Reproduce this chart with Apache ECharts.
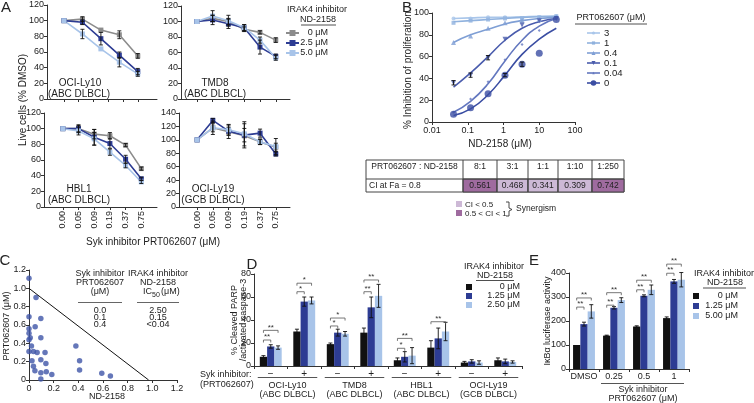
<!DOCTYPE html>
<html>
<head>
<meta charset="utf-8">
<script src="https://cdn.jsdelivr.net/npm/echarts@6/dist/echarts.min.js"></script>
<style>
html, body { margin: 0; padding: 0; background: #fff; }
#chart { width: 754px; height: 403px; }
</style>
</head>
<body>
<div id="chart"></div>
<script>
// ---------- Panel A: live cells (% DMSO) ----------
const sykConc = ['0.00', '0.05', '0.09', '0.19', '0.37', '0.75']
const sykPos = [0, 1, 2, 3, 4, 5]
const ly10Pos = [0, 1.25, 2.5, 3.75, 5]   // OCI-Ly10 only has 5 points spread over the axis

const ly10Grey = [100, 102, 88, 82, 55]
const ly10Dark = [100, 98, 77, 56, 35]
const ly10Light = [100, 83, 64, 47, 32]
const ly10GreyErr = [0, 3, 0, 5, 3]
const ly10DarkErr = [0, 3, 8, 4, 4]
const ly10LightErr = [0, 6, 0, 6, 3]

const tmd8Grey = [100, 104, 100, 90, 86, 76]
const tmd8Dark = [100, 102, 97, 92, 67, 55]
const tmd8Light = [100, 107, 101, 92, 76, 53]
const tmd8GreyErr = [0, 4, 4, 3, 2, 3]
const tmd8DarkErr = [0, 6, 6, 4, 9, 3]
const tmd8LightErr = [0, 7, 7, 4, 4, 3]

const hbl1Grey = [100, 100, 93, 91, 79, 49]
const hbl1Dark = [100, 100, 89, 81, 61, 36]
const hbl1Light = [100, 97, 87, 70, 53, 32]
const hbl1GreyErr = [0, 4, 6, 4, 2, 2]
const hbl1DarkErr = [0, 5, 10, 6, 5, 2]
const hbl1LightErr = [0, 5, 8, 4, 3, 2]

const ly19Grey = [100, 118, 112, 106, 97, 89]
const ly19Dark = [100, 129, 113, 107, 110, 79]
const ly19Light = [100, 118, 115, 109, 97, 90]
const ly19GreyErr = [0, 6, 10, 18, 4, 6]
const ly19DarkErr = [0, 3, 6, 10, 6, 3]
const ly19LightErr = [0, 10, 8, 18, 4, 12]

const aLegend = ['0 \u03bcM', '2.5 \u03bcM', '5.0 \u03bcM']

// ---------- Panel B: % inhibition vs ND-2158 ----------
const ndConc = [0.04, 0.12, 0.37, 1.1, 3.3, 10, 30]
const bNames = ['3', '1', '0.4', '0.1', '0.04', '0']
const obs3 = [95, 95, 96, 96, 95, 96, 97]
const obs1 = [91, 93, 94, 95, 95, 96, 97]
const obs04 = [73, 79, 86, 91, 93, 94, 96]
const obs01 = [36, 43, 59, 76, 89, 93, 95]
const obs004 = [9, 21, 37, 57, 71, 84, 96]
const obs0 = [7, 13, 26, 43, 53, 63, 94]
const err01 = [2, 2, 2, 0, 0, 0, 0]
const err0 = [0, 0, 0, 1.5, 2, 0, 0]
const fit3 = [95, 95.5, 96, 96, 96.5, 97, 97]
const fit1 = [92, 93, 94, 95, 96, 96.5, 97]
const fit04 = [73, 80, 85, 90, 93, 95, 96]
const fit01 = [32, 45, 60, 75, 86, 92, 95]
const fit004 = [9, 19, 35, 56, 75, 88, 95]
const fit0 = [6, 12, 25, 43, 62, 76, 86]

const ratios = ['8:1', '3:1', '1:1', '1:10', '1:250']
const ciVals = [0.561, 0.468, 0.341, 0.309, 0.742]

// ---------- Panel C: isobologram ----------
const cX = [0, 0.057, 0, 0.096, 0, 0.05, 0, 0.01, 0, 0.096, 0.02, 0, 0.036, 0.066, 0.13, 0.024,
  0.096, 0.137, 0.036, 0.048, 0.096, 0.14, 0.185, 0.096, 0.38, 0.41, 0.41, 0.59, 0.66]
const cY = [1.11, 0.90, 0.69, 0.67, 0.56, 0.58, 0.51, 0.46, 0.44, 0.46, 0.37, 0.31, 0.31, 0.30, 0.30, 0.21,
  0.22, 0.18, 0.15, 0.10, 0.08, 0.09, 0.06, 0.01, 0.37, 0.21, 0.11, 0.075, 0.045]
const additivityX = [0, 0.97]
const additivityY = [1, 0]
const cSyk = ['0.0', '0.1', '0.4']
const cIc50 = ['2.50', '0.15', '<0.04']

// ---------- Panel D: cleaved PARP ----------
const dCats = ['\u2212', '+', '\u2212', '+', '\u2212', '+', '\u2212', '+']
const dCells = ['OCI-Ly10', 'TMD8', 'HBL1', 'OCI-Ly19']
const dTypes = ['(ABC DLBCL)', '(ABC DLBCL)', '(ABC DLBCL)', '(GCB DLBCL)']
const d0 = [8, 30, 19, 29, 5, 16, 3, 5]
const d125 = [17, 56, 29, 51, 8, 24, 4, 4]
const d250 = [16, 57, 28, 61, 9, 30, 3, 3.5]
const d0Err = [1, 2, 1, 4, 2, 6, 1, 2]
const d125Err = [1.5, 4, 3, 9, 4.5, 9, 1.5, 2]
const d250Err = [1.5, 3, 2, 10, 7, 8, 1.5, 1]
// [category, fromBar, toBar, y, label]
const dBrackets = [
  [0, 0, 2, 31, '**'], [0, 0, 1, 22.6, '**'], [1, 0, 2, 72, '*'], [1, 0, 1, 64.6, '*'],
  [2, 0, 2, 41.7, '*'], [2, 0, 1, 34.8, '*'], [3, 0, 2, 74.8, '**'], [3, 0, 1, 64.6, '**'],
  [4, 0, 2, 24, '**'], [4, 0, 1, 15.4, '*'], [5, 0, 2, 38.5, '**']
]
const dLegend = ['0 \u03bcM', '1.25 \u03bcM', '2.50 \u03bcM']

// ---------- Panel E: IkBa luciferase ----------
const eCats = ['DMSO', '0.25', '0.5', '1']
const e0 = [100, 139, 177, 212]
const e125 = [187, 255, 305, 365]
const e500 = [240, 287, 330, 372]
const e0Err = [0, 2, 3, 5]
const e125Err = [8, 5, 4, 8]
const e500Err = [28, 10, 20, 30]
const eBrackets = [
  [0, 0, 2, 296, '**'], [0, 0, 1, 258, '**'], [1, 0, 2, 318, '**'], [1, 0, 1, 266, '**'],
  [2, 0, 2, 370, '**'], [2, 0, 1, 330, '**'], [3, 0, 2, 437, '**'], [3, 0, 1, 399, '**']
]
const eLegend = ['0 \u03bcM', '1.25 \u03bcM', '5.00 \u03bcM']

// colours
const GREY = '#8c8c8c'
const DARK = '#2d3c93'
const LIGHT = '#a8c4e9'
const BLACK = '#111'
const bColors = ['#a9c6ea', '#90b2de', '#7f9fd5', '#4a5cad', '#6377bf', '#3b4ea3']
const CI_LIGHT = '#cdb9d6'
const CI_DARK = '#9f6b9f'
const FONT = 'Liberation Sans'
const INK = '#222'
const BAR_W = 7.3

const chart = echarts.init(document.getElementById('chart'))

const tickFont = { fontFamily: FONT, fontSize: 9, color: INK }
const axLine = { show: true, onZero: false, lineStyle: { color: '#333', width: 1 } }
const axTick = { show: true, length: 3, lineStyle: { color: '#333' } }

// axis helpers
const aX = (gi, labels, min, max) => ({
  type: 'value', gridIndex: gi, min: min, max: max,
  axisLine: axLine,
  axisTick: { ...axTick, customValues: sykPos },
  axisLabel: { show: labels, customValues: sykPos, rotate: 90, margin: 4, ...tickFont,
    formatter: v => sykConc[Math.round(v)] },
  splitLine: { show: false }
})
const valY = (gi, min, max, interval, fmt) => ({
  type: 'value', gridIndex: gi, min: min, max: max, interval: interval,
  axisLine: axLine, axisTick: axTick,
  axisLabel: { ...tickFont, margin: 3, formatter: fmt },
  splitLine: { show: false }
})

// error bars (I-beams), shift moves them sideways for grouped bars
function errSeries (xi, xs, ys, errs, shift) {
  return {
    type: 'custom', xAxisIndex: xi, yAxisIndex: xi, z: 4, silent: true, clip: false,
    data: xs.map((x, i) => [x, ys[i], errs[i]]),
    renderItem: (params, api) => {
      const e = api.value(2)
      if (!e) return
      const top = api.coord([api.value(0), api.value(1) + e])
      const bot = api.coord([api.value(0), api.value(1) - e])
      const cx = top[0] + (shift || 0)
      const st = { stroke: '#111', lineWidth: 0.9 }
      return {
        type: 'group', children: [
          { type: 'line', shape: { x1: cx, y1: top[1], x2: cx, y2: bot[1] }, style: st },
          { type: 'line', shape: { x1: cx - 2, y1: top[1], x2: cx + 2, y2: top[1] }, style: st },
          { type: 'line', shape: { x1: cx - 2, y1: bot[1], x2: cx + 2, y2: bot[1] }, style: st }
        ]
      }
    }
  }
}

// significance brackets over grouped bars
function bracketSeries (xi, list) {
  return {
    type: 'custom', xAxisIndex: xi, yAxisIndex: xi, z: 5, silent: true, clip: false,
    data: list.map(b => [b[0], b[3]]),
    renderItem: (params, api) => {
      const b = list[params.dataIndex]
      const p = api.coord([api.value(0), api.value(1)])
      const x1 = p[0] + (b[1] - 1) * BAR_W
      const x2 = p[0] + (b[2] - 1) * BAR_W
      const y = p[1]
      return {
        type: 'group', children: [
          { type: 'polyline', shape: { points: [[x1, y + 2.5], [x1, y], [x2, y], [x2, y + 2.5]] },
            style: { stroke: '#555', lineWidth: 0.8, fill: null } },
          { type: 'text', x: (x1 + x2) / 2, y: y + 1,
            style: { text: b[4], align: 'center', verticalAlign: 'bottom', fontFamily: FONT, fontSize: 8, fill: '#333' } }
        ]
      }
    }
  }
}

function aLine (gi, xs, ys, color) {
  return {
    type: 'line', xAxisIndex: gi, yAxisIndex: gi, z: 3,
    data: xs.map((x, i) => [x, ys[i]]),
    symbol: 'rect', symbolSize: 5, showSymbol: true,
    lineStyle: { color: color, width: 1.6 }, itemStyle: { color: color }
  }
}

const series = []
// Panel A
const aSets = [
  [0, ly10Pos, [ly10Grey, ly10Dark, ly10Light], [ly10GreyErr, ly10DarkErr, ly10LightErr]],
  [1, sykPos, [tmd8Grey, tmd8Dark, tmd8Light], [tmd8GreyErr, tmd8DarkErr, tmd8LightErr]],
  [2, sykPos, [hbl1Grey, hbl1Dark, hbl1Light], [hbl1GreyErr, hbl1DarkErr, hbl1LightErr]],
  [3, sykPos, [ly19Grey, ly19Dark, ly19Light], [ly19GreyErr, ly19DarkErr, ly19LightErr]]
]
aSets.forEach(([gi, xs, ys, errs]) => {
  [GREY, DARK, LIGHT].forEach((c, k) => {
    series.push(aLine(gi, xs, ys[k], c))
    series.push(errSeries(gi, xs, ys[k], errs[k], 0))
  })
})

// Panel B
const bObs = [obs3, obs1, obs04, obs01, obs004, obs0]
const bFit = [fit3, fit1, fit04, fit01, fit004, fit0]
const bSymbols = ['circle', 'rect', 'triangle', 'triangle', 'diamond', 'circle']
const bSizes = [4, 4, 5, 5, 3, 7]
const bRot = [0, 0, 0, 180, 0, 0]
bNames.forEach((n, k) => {
  series.push({
    type: 'line', xAxisIndex: 4, yAxisIndex: 4, smooth: 0.5, symbol: 'none',
    data: ndConc.map((x, i) => [x, bFit[k][i]]),
    lineStyle: { color: bColors[k], width: 1.6 }
  })
  series.push({
    type: 'scatter', xAxisIndex: 4, yAxisIndex: 4, z: 3,
    symbol: bSymbols[k], symbolSize: bSizes[k], symbolRotate: bRot[k],
    data: ndConc.map((x, i) => [x, bObs[k][i]]),
    itemStyle: { color: bColors[k] }
  })
})
series.push(errSeries(4, ndConc, obs01, err01, 0))
series.push(errSeries(4, ndConc, obs0, err0, 0))

// Panel C
series.push({
  type: 'line', xAxisIndex: 5, yAxisIndex: 5, symbol: 'none',
  data: additivityX.map((x, i) => [x, additivityY[i]]),
  lineStyle: { color: '#111', width: 1 }
})
series.push({
  type: 'scatter', xAxisIndex: 5, yAxisIndex: 5, symbolSize: 5.5,
  data: cX.map((x, i) => [x, cY[i]]),
  itemStyle: { color: '#3f55a8' }
})

// Panel D and E bars
function barGroup (xi, vals, errs, brackets) {
  const colors = [BLACK, DARK, LIGHT]
  vals.forEach((v, k) => {
    series.push({
      type: 'bar', xAxisIndex: xi, yAxisIndex: xi, data: v, barWidth: BAR_W, barGap: '0%',
      itemStyle: { color: colors[k] }
    })
  })
  vals.forEach((v, k) => {
    series.push(errSeries(xi, v.map((_, i) => i), v, errs[k], (k - 1) * BAR_W))
  })
  series.push(bracketSeries(xi, brackets))
}
barGroup(6, [d0, d125, d250], [d0Err, d125Err, d250Err], dBrackets)
barGroup(7, [e0, e125, e500], [e0Err, e125Err, e500Err], eBrackets)

const catAxis = (gi, data, fontSize) => ({
  type: 'category', gridIndex: gi, data: data,
  axisLine: axLine, axisTick: { ...axTick, alignWithLabel: false },
  axisLabel: { ...tickFont, fontSize: fontSize, margin: 3, interval: 0 }
})

const dec1 = v => (v === 0 ? '0' : v.toFixed(1))

const option = {
  animation: false,
  backgroundColor: '#fff',
  textStyle: { fontFamily: FONT },
  grid: [
    { left: 47, top: 5, width: 110, height: 94 },
    { left: 181, top: 6, width: 109, height: 93 },
    { left: 44, top: 113, width: 113, height: 94 },
    { left: 179, top: 113, width: 111, height: 94 },
    { left: 432, top: 13, width: 143, height: 109 },
    { left: 29, top: 270, width: 148, height: 110 },
    { left: 254, top: 274, width: 268, height: 92 },
    { left: 569, top: 273, width: 120, height: 96 }
  ],
  xAxis: [
    aX(0, false, -1.15, 6.3),
    aX(1, false, -1.0, 5.9),
    aX(2, true, -1.2, 6.0),
    aX(3, true, -1.15, 5.9),
    { type: 'log', logBase: 10, gridIndex: 4, min: 0.01, max: 100,
      axisLine: axLine, axisTick: axTick, splitLine: { show: false },
      axisLabel: { ...tickFont, margin: 4, formatter: v => String(v) } },
    { type: 'value', gridIndex: 5, min: 0, max: 1.2, interval: 0.2,
      axisLine: axLine, axisTick: axTick, splitLine: { show: false },
      axisLabel: { ...tickFont, margin: 4, formatter: dec1 } },
    catAxis(6, dCats, 10),
    catAxis(7, eCats, 9)
  ],
  yAxis: [
    valY(0, 0, 120, 20),
    valY(1, 0, 120, 20),
    valY(2, 0, 120, 20),
    valY(3, 0, 140, 20),
    valY(4, 0, 100, 20),
    valY(5, 0, 1.2, 0.2, dec1),
    valY(6, 0, 80, 20),
    valY(7, 0, 400, 100)
  ],
  series: series
}
chart.setOption(option)

// ---------- text, legends and tables ----------
function T (text, x, y, o) {
  o = o || {}
  return {
    type: 'text', x: x, y: y, rotation: o.rot || 0, silent: true, z: 10,
    style: { text: text, fontFamily: FONT, fontSize: o.size || 9, fill: o.color || INK,
      align: o.align || 'center', verticalAlign: o.va || 'middle', fontWeight: o.weight || 'normal' }
  }
}
function L (x1, y1, x2, y2, color, w) {
  return { type: 'line', silent: true, z: 10, shape: { x1: x1, y1: y1, x2: x2, y2: y2 },
    style: { stroke: color || '#222', lineWidth: w || 1 } }
}
function R (x, y, w, h, fill, stroke) {
  return { type: 'rect', silent: true, z: 9, shape: { x: x, y: y, width: w, height: h },
    style: { fill: fill || 'none', stroke: stroke || null, lineWidth: 1 } }
}

const g = []
// panel letters
g.push(T('A', 6, 8, { size: 15 }), T('B', 407, 8, { size: 15 }), T('C', 5, 261, { size: 15 }),
  T('D', 252, 265, { size: 15 }), T('E', 534, 261, { size: 15 }))

// Panel A labels
g.push(T('Live cells (% DMSO)', 23, 100, { size: 10, rot: Math.PI / 2 }))
g.push(T('Syk inhibitor PRT062607 (\u03bcM)', 153, 242, { size: 10 }))
g.push(T('OCI-Ly10', 80, 83, { size: 10 }), T('(ABC DLBCL)', 79, 94, { size: 10 }))
g.push(T('TMD8', 215, 83, { size: 10 }), T('(ABC DLBCL)', 215, 94, { size: 10 }))
g.push(T('HBL1', 79, 189, { size: 10 }), T('(ABC DLBCL)', 79, 200, { size: 10 }))
g.push(T('OCI-Ly19', 213, 189, { size: 10 }), T('(GCB DLBCL)', 213, 200, { size: 10 }))
g.push(T('IRAK4 inhibitor', 317, 10), T('ND-2158', 318, 20), L(301, 25, 336, 25, '#222', 0.8))
;[GREY, DARK, LIGHT].forEach((c, k) => {
  const y = 33 + k * 10
  g.push(L(286, y, 299, y, c, 2), R(289.5, y - 3, 6, 6, c))
  g.push(T(aLegend[k], 328, y, { align: 'right' }))
})

// Panel B labels and legend
g.push(T('% Inhibition of proliferation', 408, 70, { size: 10, rot: Math.PI / 2 }))
g.push(T('ND-2158 (\u03bcM)', 500, 144, { size: 10 }))
g.push(T('PRT062607 (\u03bcM)', 611, 18), L(575, 24, 647, 24, '#222', 0.8))
bNames.forEach((n, k) => {
  const y = 33 + k * 10
  const c = bColors[k]
  g.push(L(587, y, 600, y, c, 1.6))
  const s = bSizes[k] * 0.8
  if (bSymbols[k] === 'circle') g.push({ type: 'circle', silent: true, z: 10, shape: { cx: 593.5, cy: y, r: s / 2 }, style: { fill: c } })
  else if (bSymbols[k] === 'rect') g.push(R(593.5 - s / 2, y - s / 2, s, s, c))
  else {
    const up = bRot[k] === 0
    const h = s
    const pts = up ? [[593.5, y - h / 2], [593.5 + h / 2, y + h / 2], [593.5 - h / 2, y + h / 2]]
      : [[593.5, y + h / 2], [593.5 + h / 2, y - h / 2], [593.5 - h / 2, y - h / 2]]
    g.push({ type: 'polygon', silent: true, z: 10, shape: { points: pts }, style: { fill: c } })
  }
  g.push(T(n, 604, y, { align: 'left', size: 9.5 }))
})

// Panel B table
const colX = [366, 463, 497, 528, 558, 592, 624]
g.push(R(366, 160, 258, 32, '#fff', '#444'))
g.push(T('PRT062607 : ND-2158', 414.5, 167, { size: 8.5 }))
g.push(T('CI at Fa = 0.8', 369, 185.5, { align: 'left', size: 8.5 }))
ratios.forEach((r, i) => {
  const x0 = colX[i + 1], x1 = colX[i + 2]
  g.push(R(x0, 179, x1 - x0, 13, ciVals[i] < 0.5 ? CI_LIGHT : CI_DARK, '#444'))
  g.push(T(r, (x0 + x1) / 2, 167, { size: 8.5 }))
  g.push(T(ciVals[i].toFixed(3), (x0 + x1) / 2, 185.5, { size: 8.5 }))
})
colX.slice(1, 6).forEach(x => g.push(L(x, 160, x, 192, '#444', 1)))
g.push(L(366, 179, 624, 179, '#444', 1))
g.push(R(456, 201, 6, 6, CI_LIGHT), R(456, 210, 6, 6, CI_DARK))
g.push(T('CI < 0.5', 465, 204.5, { align: 'left', size: 8 }), T('0.5 < CI < 1', 465, 213.5, { align: 'left', size: 8 }))
g.push({ type: 'polyline', silent: true, z: 10,
  shape: { points: [[506, 202], [509, 202], [509, 208], [512, 209.5], [509, 211], [509, 216], [506, 216]] },
  style: { stroke: '#333', lineWidth: 0.9, fill: null } })
g.push(T('Synergism', 516, 209, { align: 'left', size: 8.5 }))

// Panel C labels and table
g.push(T('PRT062607 (\u03bcM)', 7, 326, { size: 9, rot: Math.PI / 2 }))
g.push(T('ND-2158', 107, 397, { size: 9 }))
g.push(T('Syk inhibitor', 100, 274), T('PRT062607', 100, 283), T('(\u03bcM)', 100, 292))
g.push(T('IRAK4 inhibitor', 158, 274), T('ND-2158', 158, 283))
g.push(T('IC', 152, 292, { align: 'right' }), T('50', 152, 295, { align: 'left', size: 7 }), T('(\u03bcM)', 161, 292, { align: 'left' }))
g.push(L(78, 302.5, 122, 302.5, '#666', 1.2), L(137, 302.5, 179, 302.5, '#666', 1.2))
cSyk.forEach((s, i) => {
  g.push(T(s, 100, 311 + i * 7), T(cIc50[i], 158, 311 + i * 7))
})

// Panel D labels and legend
g.push(T('% Cleaved PARP', 235, 320, { size: 9, rot: Math.PI / 2 }))
g.push(T('/activated caspase-3', 244, 320, { size: 9, rot: Math.PI / 2 }))
g.push(T('Syk inhibitor:', 200, 375, { align: 'left' }), T('(PRT062607)', 200, 385, { align: 'left' }))
g.push(T('IRAK4 inhibitor', 494, 267), T('ND-2158', 495, 276), L(476, 280.5, 514, 280.5, '#222', 0.8))
;[BLACK, DARK, LIGHT].forEach((c, k) => {
  const y = 287 + k * 9
  g.push(R(466, y - 3, 6, 6, c))
  g.push(T(dLegend[k], 520, y, { align: 'right' }))
})
dCells.forEach((name, k) => {
  const a = chart.convertToPixel({ xAxisIndex: 6 }, k * 2)
  const b = chart.convertToPixel({ xAxisIndex: 6 }, k * 2 + 1)
  g.push(L(a - 13, 377.5, b + 13, 377.5, '#555', 1.2))
  g.push(T(name, (a + b) / 2, 385.5), T(dTypes[k], (a + b) / 2, 394.5))
})

// Panel E labels and legend
g.push(T('I\u03baB\u03b1 luciferase activity', 548, 321, { size: 9, rot: Math.PI / 2 }))
const e1 = chart.convertToPixel({ xAxisIndex: 7 }, 1)
const e3 = chart.convertToPixel({ xAxisIndex: 7 }, 3)
g.push(L(e1 - 13, 383.5, e3 + 10, 383.5, '#555', 1.2))
g.push(T('Syk inhibitor', (e1 + e3) / 2 - 1, 390), T('PRT062607 (\u03bcM)', (e1 + e3) / 2 - 1, 398.5))
g.push(T('IRAK4 inhibitor', 724, 274), T('ND-2158', 725, 283), L(703, 288, 746, 288, '#222', 0.8))
;[BLACK, DARK, LIGHT].forEach((c, k) => {
  const y = 296 + k * 10
  g.push(R(693, y - 3, 6, 6, c))
  g.push(T(eLegend[k], 738, y, { align: 'right' }))
})

chart.setOption({ graphic: { elements: g } })
</script>
</body>
</html>
